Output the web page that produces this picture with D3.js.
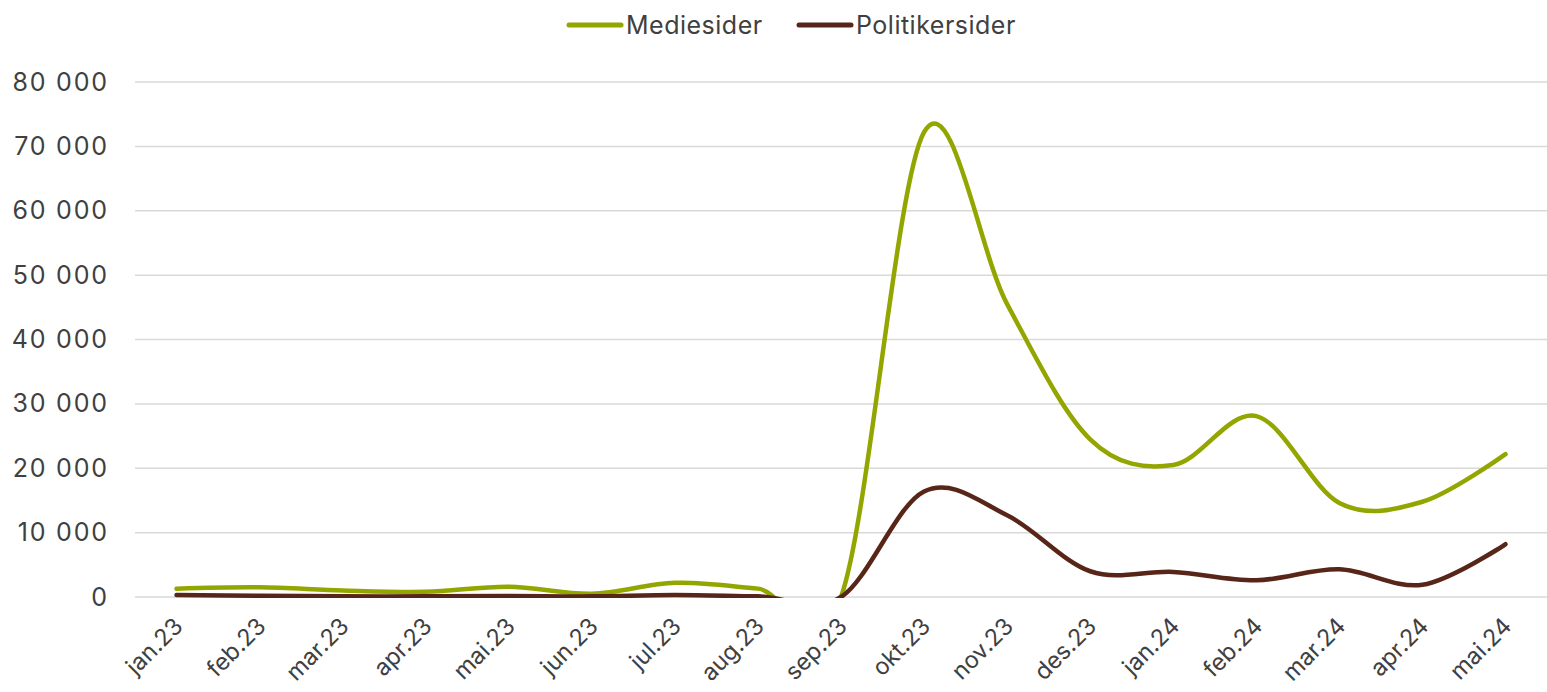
<!DOCTYPE html>
<html>
<head>
<meta charset="utf-8">
<script src="https://cdn.jsdelivr.net/npm/d3@7"></script>
<style>
  html, body { margin: 0; padding: 0; background: #fff; }
  svg { display: block; }
  text { font-family: Inter, "Open Sans", sans-serif; fill: #404040; }
</style>
</head>
<body>
<svg id="chart" width="1547" height="692"></svg>
<script>
const categories = ["jan.23","feb.23","mar.23","apr.23","mai.23","jun.23","jul.23","aug.23","sep.23","okt.23","nov.23","des.23","jan.24","feb.24","mar.24","apr.24","mai.24"];
const mediesider = [1300, 1500, 1000, 800, 1600, 500, 2200, 1300, 0, 72200, 45500, 24500, 20500, 28100, 14600, 14800, 22200];
const politikersider = [300, 200, 100, 100, 150, 100, 300, 100, 0, 16400, 12700, 4000, 3900, 2600, 4300, 1900, 8200];
const yTicks = [0, 10000, 20000, 30000, 40000, 50000, 60000, 70000, 80000];
const seriesNames = ["Mediesider", "Politikersider"];
const seriesColors = ["#93a600", "#582618"];

const svg = d3.select("#chart");
const margin = { left: 135, right: 0 };
const W = 1547;

const x = d3.scaleBand().domain(categories).range([margin.left, W - margin.right]);
const y = d3.scaleLinear().domain([0, 80000]).range([597, 82]);

const fmt = v => d3.format(",")(v).replace(/,/g, " ");
const FONT = "Inter, 'Open Sans', sans-serif";

// gridlines
svg.append("g").selectAll("line").data(yTicks).join("line")
  .attr("x1", margin.left).attr("x2", W)
  .attr("y1", d => y(d)).attr("y2", d => y(d))
  .attr("stroke", "#d9d9d9").attr("stroke-width", 1.5);

// y axis labels
const yAxis = d3.axisLeft(y).tickValues(yTicks).tickFormat(fmt).tickSize(0).tickPadding(0);
const yg = svg.append("g").attr("transform", `translate(107,0)`).call(yAxis);
yg.select(".domain").remove();
yg.selectAll("text").attr("font-size", 25).attr("fill", "#404040")
  .style("font-family", FONT).style("letter-spacing", "1.8px").attr("dx", "1.8px");

// x axis labels
const xAxis = d3.axisBottom(x).tickSize(0).tickPadding(0);
const xg = svg.append("g").call(xAxis);
xg.select(".domain").remove();
xg.selectAll(".tick").attr("transform", d => `translate(${x(d) + x.bandwidth()/2 - 4},616)`);
xg.selectAll("text")
  .attr("font-size", 23.5).attr("fill", "#404040")
  .style("font-family", FONT)
  .attr("text-anchor", "end").attr("dy", "0.7em").attr("y", 0).attr("x", 0)
  .attr("transform", "rotate(-45)");

// clip at the plot area bottom
svg.append("clipPath").attr("id", "plotclip").append("rect")
  .attr("x", 0).attr("y", 0).attr("width", W).attr("height", y(0) + 1);

// lines
const line = d3.line()
  .x((d, i) => x(categories[i]) + x.bandwidth()/2)
  .y(d => y(d))
  .curve(d3.curveCatmullRom.alpha(0));

const lg = svg.append("g").attr("clip-path", "url(#plotclip)");
[mediesider, politikersider].forEach((s, k) => {
  lg.append("path").datum(s)
    .attr("d", line)
    .attr("fill", "none")
    .attr("stroke", seriesColors[k])
    .attr("stroke-width", 4.5)
    .attr("stroke-linecap", "round")
    .attr("stroke-linejoin", "round");
});

// legend
const legendItems = [{ x: 569, name: seriesNames[0], c: seriesColors[0] }, { x: 799, name: seriesNames[1], c: seriesColors[1] }];
legendItems.forEach(it => {
  svg.append("line").attr("x1", it.x).attr("x2", it.x + 52).attr("y1", 25).attr("y2", 25)
    .attr("stroke", it.c).attr("stroke-width", 5).attr("stroke-linecap", "round");
  svg.append("text").attr("x", it.x + 57).attr("y", 25).attr("dy", "0.35em")
    .attr("font-size", 25).style("letter-spacing", "0.5px").text(it.name);
});
</script>
</body>
</html>
